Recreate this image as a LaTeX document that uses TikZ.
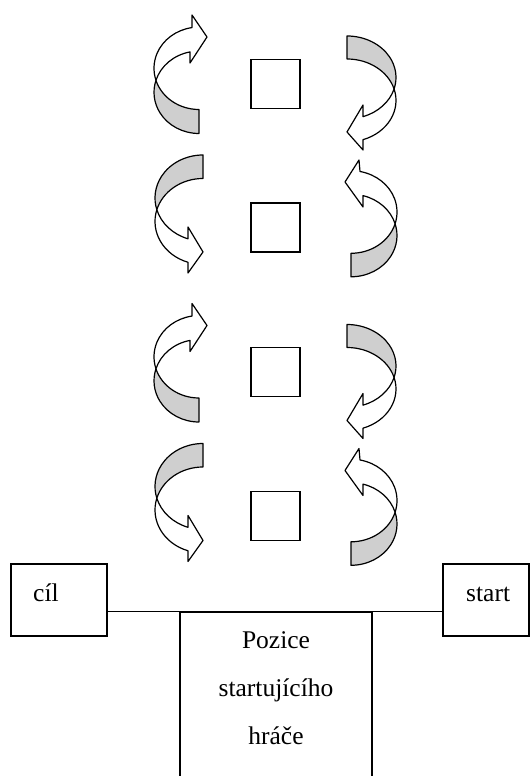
\documentclass[tikz,border=0pt]{standalone}
\usepackage{fontspec}
\setmainfont{Liberation Serif}
\tikzset{
  band/.style={draw=black, line width=1.2pt, line join=round},
  back/.style={band, fill=black!19},
  front/.style={band, fill=white},
  sqbox/.style={draw=black, line width=1.3pt, minimum size=49pt, inner sep=0pt},
  tbox/.style={draw=black, line width=1.3pt, inner sep=0pt},
  lbl/.style={inner sep=0pt, anchor=base west, font=\fontsize{25.5}{30}\selectfont},
  clbl/.style={inner sep=0pt, anchor=base, font=\fontsize{25.5}{30}\selectfont},
  conn/.style={draw=black, line width=1.3pt}
}
% curved arrow, left side, arrowhead at top pointing right
\newcommand\crvA[1]{%
\begin{scope}[shift={(0,#1)}]
\path[back] (155.95,80.3) arc[start angle=163.07, end angle=90, x radius=45pt, y radius=41.2pt]
  -- (199,133.5) arc[start angle=90, end angle=196.93, x radius=45pt, y radius=41.2pt] -- cycle;
\path[front] (192,27.6) arc[start angle=261.05, end angle=163.07, x radius=45pt, y radius=41.2pt]
  arc[start angle=196.93, end angle=258.46, x radius=45pt, y radius=41.2pt]
  -- (190,63) -- (207,37) -- (192,15) -- cycle;
\end{scope}}
% curved arrow, right side, arrowhead at bottom pointing left
\newcommand\crvB[1]{%
\begin{scope}[shift={(0,#1)}]
\path[back] (347,36) arc[start angle=270, end angle=376.09, x radius=49pt, y radius=41.5pt]
  arc[start angle=343.91, end angle=270, x radius=49pt, y radius=41.5pt] -- cycle;
\path[front] (363,116.7) arc[start angle=70.94, end angle=16.09, x radius=49pt, y radius=41.5pt]
  arc[start angle=-16.09, end angle=70.94, x radius=49pt, y radius=41.5pt]
  -- (363,150) -- (347,132) -- (363,105) -- cycle;
\end{scope}}
% curved arrow, left side, arrowhead at bottom pointing right
\newcommand\crvC[1]{%
\begin{scope}[shift={(0,#1)}]
\path[back] (203,155) arc[start angle=270, end angle=164.14, x radius=48pt, y radius=43pt]
  arc[start angle=195.86, end angle=270, x radius=48pt, y radius=43pt] -- cycle;
\path[front] (188,238.8) arc[start angle=108.21, end angle=164.14, x radius=48pt, y radius=43pt]
  arc[start angle=195.86, end angle=108.21, x radius=48pt, y radius=43pt]
  -- (188,273) -- (203,252) -- (188,227) -- cycle;
\end{scope}}
% curved arrow, right side, arrowhead at top pointing left
\newcommand\crvD[1]{%
\begin{scope}[shift={(0,#1)}]
\path[back] (395.1,223.75) arc[start angle=16.53, end angle=90, x radius=46pt, y radius=41.3pt]
  -- (351,276.8) arc[start angle=90, end angle=-16.53, x radius=46pt, y radius=41.3pt] -- cycle;
\path[front] (360,171.5) arc[start angle=281.28, end angle=376.53, x radius=46pt, y radius=41.3pt]
  arc[start angle=343.47, end angle=285.12, x radius=46pt, y radius=41.3pt]
  -- (363,207) -- (345,182) -- (359,160) -- cycle;
\end{scope}}
\begin{document}
\begin{tikzpicture}[x=1pt, y=1pt]
\begin{scope}[shift={(0,776)}, yscale=-1]
\useasboundingbox (0,0) rectangle (531,776);
\fill[white] (0,0) rectangle (531,776);

% squares
\node[sqbox] (sq1) at (275.5,84) {};
\node[sqbox] (sq2) at (275.5,227.5) {};
\node[sqbox] (sq3) at (275.5,372) {};
\node[sqbox] (sq4) at (275.5,516) {};

% curved arrows
\crvA{0}
\crvB{0}
\crvC{0}
\crvD{0}
\crvA{288.5}
\crvB{288.5}
\crvC{288.5}
\crvD{288.5}

% bottom boxes
\node[tbox, minimum width=96pt, minimum height=72pt] (cil) at (59,600) {};
\node[tbox, minimum width=86pt, minimum height=72pt] (start) at (486,600) {};
\node[tbox, minimum width=192pt, minimum height=172pt] (ctr) at (276,698) {};
\node[lbl] (tcil) at (33,602) {cíl};
\node[lbl] (tstart) at (466,602) {start};
\node[clbl] (p1) at (276,649) {Pozice};
\node[clbl] (p2) at (276,697) {startujícího};
\node[clbl] (p3) at (276,744.5) {hráče};

\draw[conn] (cil.east |- ctr.north) -- (start.west |- ctr.north);
\end{scope}
\end{tikzpicture}
\end{document}
